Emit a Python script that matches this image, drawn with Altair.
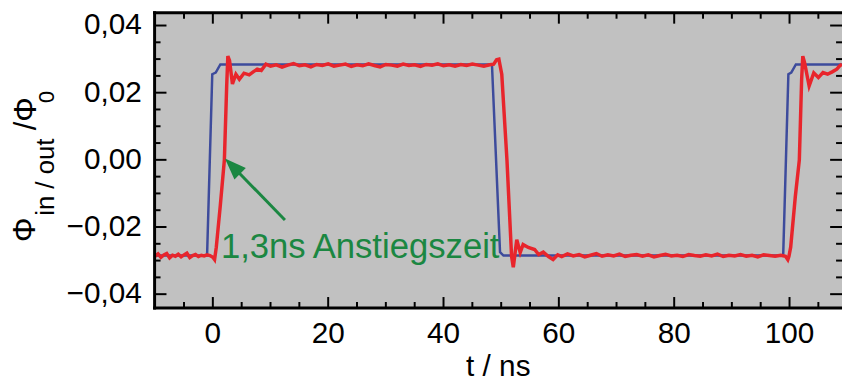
import altair as alt
import pandas as pd

# ---------------- data ----------------
blue_t = [-10.1, -1.0, -0.1, 0.5, 1.3, 48.4, 49.8, 50.4, 98.9, 99.8, 100.3, 101.1, 109.1]
blue_v = [-0.0285, -0.0285, 0.0255, 0.0260, 0.0284, 0.0284, -0.0275, -0.0285,
          -0.0285, 0.0255, 0.0260, 0.0284, 0.0284]

# red output signal, segment by segment
red_low1_t = [-10.1, -9.5, -9.0, -8.5, -8.0, -7.5, -7.0, -6.5, -6.0, -5.5,
              -5.0, -4.5, -4.0, -3.5, -3.0, -2.5, -2.0, -1.5, -1.0, -0.5]
red_low1_v = [-0.0288, -0.0280, -0.0290, -0.0283, -0.0279, -0.0292, -0.0284, -0.0287, -0.0281, -0.0289,
              -0.0283, -0.0278, -0.0291, -0.0285, -0.0282, -0.0288, -0.0284, -0.0286, -0.0283, -0.0285]
red_rise1_t = [0.0, 0.3, 0.6, 1.3, 2.0, 2.4, 2.6, 2.9, 3.4, 4.0, 4.6, 5.4, 6.3, 7.0, 7.7, 8.4, 9.2]
red_rise1_v = [-0.0290, -0.0297, -0.0260, -0.0135, 0.0000, 0.0220, 0.0309, 0.0295, 0.0226,
               0.0255, 0.0240, 0.0258, 0.0253, 0.0262, 0.0270, 0.0266, 0.0285]
red_high_t = [10, 11, 12, 13, 14, 15, 16, 17, 18, 19,
              20, 21, 22, 23, 24, 25, 26, 27, 28, 29,
              30, 31, 32, 33, 34, 35, 36, 37, 38, 39,
              40, 41, 42, 43, 44, 45, 46, 47, 48]
red_high_v = [0.0279, 0.0283, 0.0276, 0.0282, 0.0287, 0.0280, 0.0283, 0.0277, 0.0284, 0.0281,
              0.0286, 0.0279, 0.0282, 0.0285, 0.0278, 0.0283, 0.0280, 0.0286, 0.0281, 0.0277,
              0.0284, 0.0282, 0.0279, 0.0285, 0.0281, 0.0283, 0.0278, 0.0284, 0.0282, 0.0286,
              0.0280, 0.0283, 0.0279, 0.0284, 0.0281, 0.0285, 0.0282, 0.0279, 0.0283]
red_fall_t = [48.7, 49.2, 49.6, 50.1, 51.0, 51.8, 52.1, 52.7, 53.3, 53.8,
              54.7, 55.8, 56.5, 57.3, 58.2, 59.0, 59.8, 60.5, 61.5]
red_fall_v = [0.0285, 0.0298, 0.0300, 0.0255, 0.0000, -0.0287, -0.0320, -0.0238, -0.0276, -0.0252,
              -0.0261, -0.0267, -0.0282, -0.0275, -0.0288, -0.0297, -0.0283, -0.0288, -0.0280]
red_low2_t = [62.5, 63.5, 64.5, 65.5, 66.5, 67.5, 68.5, 69.5, 70.5, 71.5,
              72.5, 73.5, 74.5, 75.5, 76.5, 77.5, 78.5, 79.5, 80.5, 81.5,
              82.5, 83.5, 84.5, 85.5, 86.5, 87.5, 88.5, 89.5, 90.5, 91.5,
              92.5, 93.5, 94.5, 95.5, 96.5, 97.5, 98.5]
red_low2_v = [-0.0286, -0.0282, -0.0289, -0.0284, -0.0279, -0.0287, -0.0283, -0.0286, -0.0281, -0.0288,
              -0.0284, -0.0282, -0.0287, -0.0283, -0.0289, -0.0285, -0.0281, -0.0286, -0.0284, -0.0288,
              -0.0282, -0.0285, -0.0287, -0.0283, -0.0286, -0.0281, -0.0288, -0.0284, -0.0286, -0.0282,
              -0.0287, -0.0284, -0.0289, -0.0283, -0.0285, -0.0287, -0.0284]
red_rise2_t = [99.3, 99.7, 99.9, 100.2, 101.0, 101.7, 102.1, 102.3, 102.6, 103.4,
               104.2, 105.0, 105.8, 106.6, 107.4, 108.2, 108.7, 109.1]
red_rise2_v = [-0.0287, -0.0297, -0.0287, -0.0260, -0.0110, 0.0000, 0.0240, 0.0309, 0.0290, 0.0220,
               0.0259, 0.0245, 0.0260, 0.0255, 0.0262, 0.0270, 0.0280, 0.0285]

red_t = red_low1_t + red_rise1_t + red_high_t + red_fall_t + red_low2_t + red_rise2_t
red_v = red_low1_v + red_rise1_v + red_high_v + red_fall_v + red_low2_v + red_rise2_v

x_major = [0, 20, 40, 60, 80, 100]
x_labels = ["0", "20", "40", "60", "80", "100"]
x_minor = [-5, 5, 10, 15, 25, 30, 35, 45, 50, 55, 65, 70, 75, 85, 90, 95, 105]
y_major = [-0.04, -0.02, 0.0, 0.02, 0.04]
y_labels = ["\u22120,04", "\u22120,02", "0,00", "0,02", "0,04"]
y_minor = [-0.035, -0.03, -0.025, -0.015, -0.01, -0.005, 0.005, 0.01, 0.015,
           0.025, 0.03, 0.035]

annot_text = ["1,3ns\u2009Anstiegszeit"]
annot_x = [1.4]
annot_y = [-0.0291]
arrow_x = [12.5, 3.3]
arrow_y = [-0.0179, -0.0017]
head_x = [2.1]
head_y = [0.0004]

x_title = "t / ns"
y_title_parts = ["\u03a6", "in / out", "/\u03a6", "0"]

# ---------------- styling ----------------
W, H = 694, 298
FONT = "Liberation Sans"
RED = "#e8252c"
BLUE = "#3d4b9c"
GREEN = "#1b8742"
BG = "#c1c1c1"
LABEL_FS = 30

xs = alt.Scale(domain=[-10.1, 109.1], nice=False, zero=False)
ys = alt.Scale(domain=[-0.0441, 0.0438], nice=False, zero=False)

one = pd.DataFrame({"d": [0]})

blue_df = pd.DataFrame({"t": blue_t, "v": blue_v})
red_df = pd.DataFrame({"t": red_t, "v": red_v})

blue_line = alt.Chart(blue_df).mark_line(color=BLUE, strokeWidth=2.5, clip=True).encode(
    x=alt.X("t:Q", scale=xs, axis=None),
    y=alt.Y("v:Q", scale=ys, axis=None),
    order="t:Q",
)
red_line = alt.Chart(red_df).mark_line(color=RED, strokeWidth=3.5, clip=True).encode(
    x=alt.X("t:Q", scale=xs, axis=None),
    y=alt.Y("v:Q", scale=ys, axis=None),
    order="t:Q",
)


def xticks(vals, length):
    df = pd.DataFrame({"t": vals})
    bot = alt.Chart(df).mark_rule(color="black", strokeWidth=2).encode(
        x=alt.X("t:Q", scale=xs, axis=None), y=alt.value(H), y2=alt.value(H - length))
    top = alt.Chart(df).mark_rule(color="black", strokeWidth=2).encode(
        x=alt.X("t:Q", scale=xs, axis=None), y=alt.value(0), y2=alt.value(length))
    return [bot, top]


def yticks(vals, length):
    df = pd.DataFrame({"v": vals})
    left = alt.Chart(df).mark_rule(color="black", strokeWidth=2).encode(
        y=alt.Y("v:Q", scale=ys, axis=None), x=alt.value(0), x2=alt.value(length))
    right = alt.Chart(df).mark_rule(color="black", strokeWidth=2).encode(
        y=alt.Y("v:Q", scale=ys, axis=None), x=alt.value(W), x2=alt.value(W - length))
    return [left, right]


ticks = xticks(x_major, 11) + xticks(x_minor, 6) + yticks(y_major, 12) + yticks(y_minor, 6)

# tick labels
xlab = alt.Chart(pd.DataFrame({"t": x_major, "s": x_labels})).mark_text(
    fontSize=LABEL_FS, font=FONT, color="black", align="center", baseline="alphabetic").encode(
    x=alt.X("t:Q", scale=xs, axis=None), y=alt.value(H + 35), text="s:N")
ylab = alt.Chart(pd.DataFrame({"v": y_major, "s": y_labels})).mark_text(
    fontSize=LABEL_FS, font=FONT, color="black", align="right", baseline="middle").encode(
    y=alt.Y("v:Q", scale=ys, axis=None), x=alt.value(-13), text="s:N")

frame_top = alt.Chart(one).mark_rule(color="black", strokeWidth=3).encode(
    x=alt.value(-1.5), x2=alt.value(W), y=alt.value(0))
frame_left = alt.Chart(one).mark_rule(color="black", strokeWidth=3).encode(
    x=alt.value(0), y=alt.value(-1.5), y2=alt.value(H + 1.5))
frame_bottom = alt.Chart(one).mark_rule(color="black", strokeWidth=3).encode(
    x=alt.value(-1.5), x2=alt.value(W), y=alt.value(H))

arrow_df = pd.DataFrame({"x": [arrow_x[0]], "y": [arrow_y[0]],
                         "x2": [arrow_x[1]], "y2": [arrow_y[1]]})
arrow = alt.Chart(arrow_df).mark_rule(color=GREEN, strokeWidth=3).encode(
    x=alt.X("x:Q", scale=xs, axis=None), y=alt.Y("y:Q", scale=ys, axis=None),
    x2="x2:Q", y2="y2:Q")
head = alt.Chart(pd.DataFrame({"x": head_x, "y": head_y})).mark_point(
    shape="M0,0L-0.75,2L0.75,2Z", filled=True, size=470, angle=315,
    color=GREEN, opacity=1, strokeWidth=0).encode(
    x=alt.X("x:Q", scale=xs, axis=None), y=alt.Y("y:Q", scale=ys, axis=None))
annot = alt.Chart(pd.DataFrame({"x": annot_x, "y": annot_y, "s": annot_text})).mark_text(
    align="left", baseline="alphabetic", fontSize=35, font=FONT, color=GREEN).encode(
    x=alt.X("x:Q", scale=xs, axis=None), y=alt.Y("y:Q", scale=ys, axis=None), text="s:N")


def txt(s, px, py, fs, angle=0):
    props = dict(fontSize=fs, font=FONT, color="black", align="center", baseline="middle")
    if angle:
        props["angle"] = angle
    return alt.Chart(pd.DataFrame({"s": [s]})).mark_text(**props).encode(
        text="s:N", x=alt.value(px), y=alt.value(py))


ytitle = [
    txt(y_title_parts[0], -130, 219, 31, 270),
    txt(y_title_parts[1], -110, 166, 26, 270),
    txt(y_title_parts[2], -129, 102, 31, 270),
    txt(y_title_parts[3], -109, 85, 22, 270),
]
xtitle = alt.Chart(pd.DataFrame({"s": [x_title]})).mark_text(
    fontSize=30, font=FONT, color="black", align="center", baseline="alphabetic").encode(
    text="s:N", x=alt.value(W / 2), y=alt.value(H + 69))

chart = alt.layer(
    blue_line, red_line, *ticks, frame_top, frame_left, frame_bottom,
    xlab, ylab, arrow, head, annot, *ytitle, xtitle,
).properties(
    width=W, height=H,
    autosize=alt.AutoSizeParams(type="none"),
    padding={"left": 148, "top": 3, "right": 1, "bottom": 76},
    background="white",
).configure_view(stroke=None, fill=BG)

chart.save("out.html", embed_options={"renderer": "svg", "actions": False})
